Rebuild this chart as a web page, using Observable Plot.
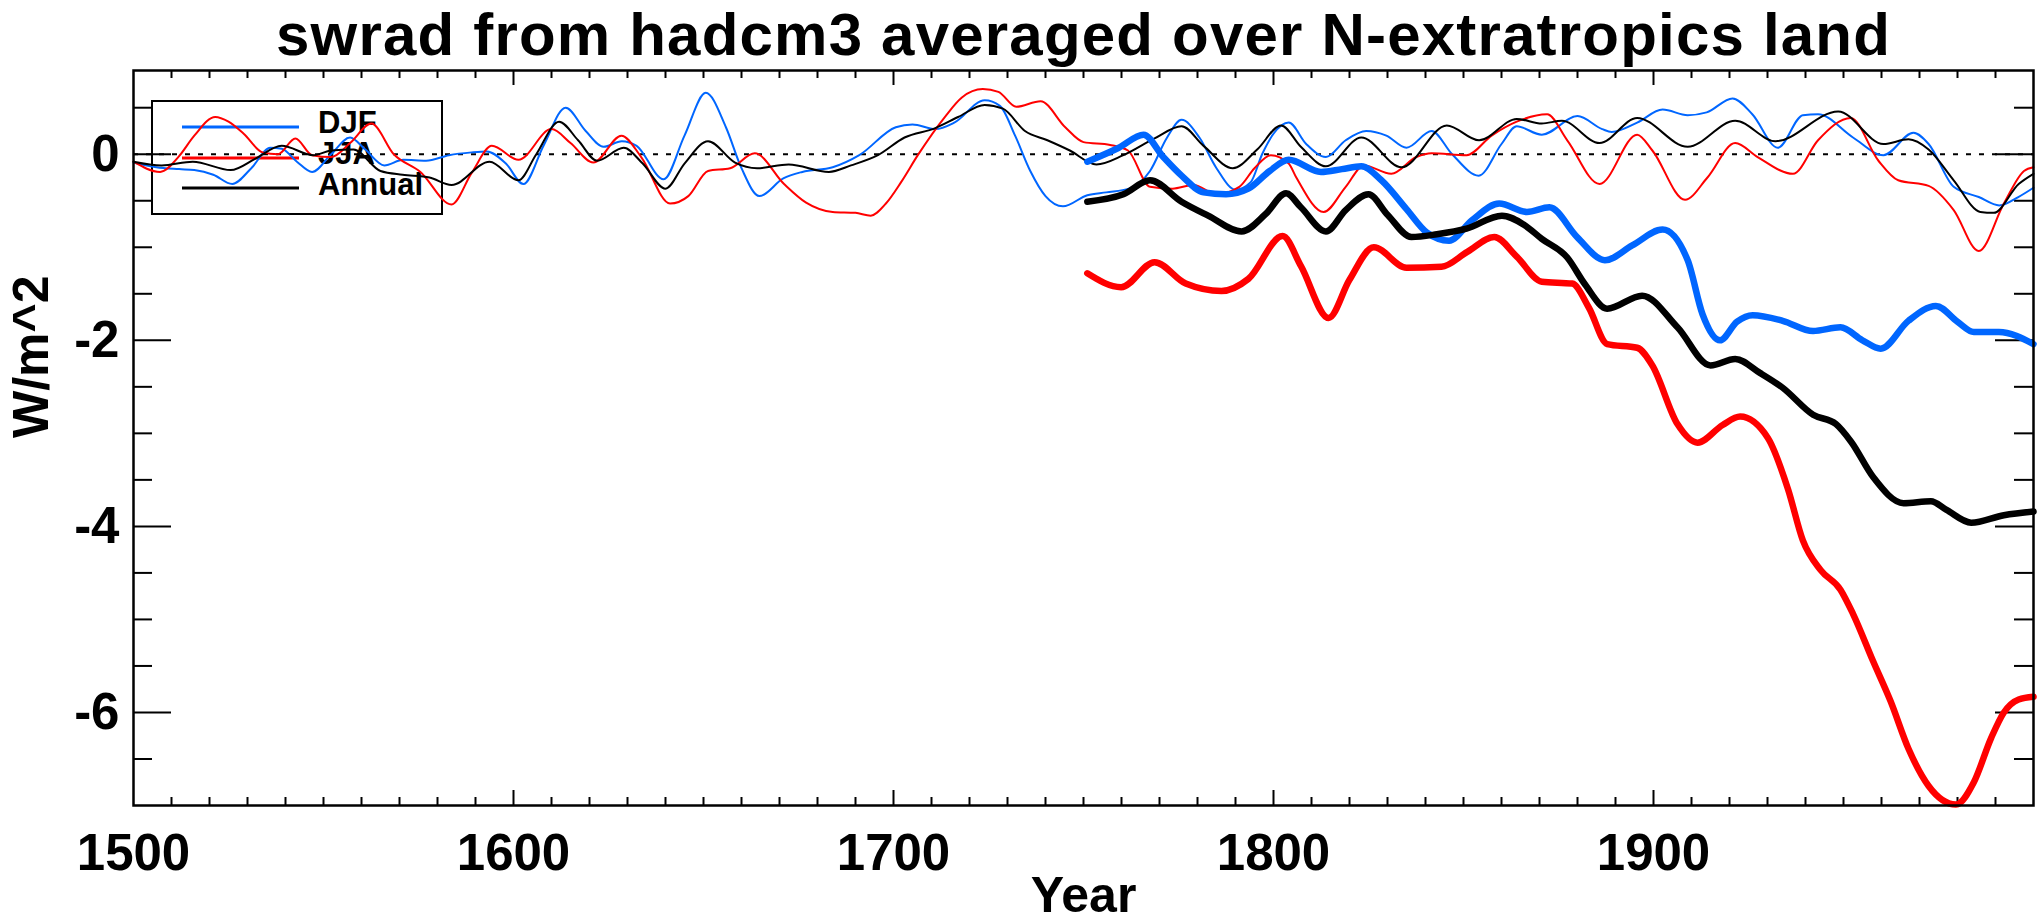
<!DOCTYPE html>
<html>
<head>
<meta charset="utf-8">
<script src="https://cdn.jsdelivr.net/npm/d3@7"></script>
<script src="https://cdn.jsdelivr.net/npm/@observablehq/plot@0.6"></script>
<style>
  html, body { margin: 0; padding: 0; background: #fff; }
  #chart { width: 2037px; height: 923px; }
</style>
</head>
<body>
<div id="chart"></div>
<script>
// ---------- text ----------
const titleText = "swrad from hadcm3 averaged over N-extratropics land";
const xLabelText = "Year";
const yLabelText = "W/m^2";
const seriesNames = ["DJF", "JJA", "Annual"];
const seriesColors = ["#0066ff", "#ff0000", "#000000"];

// ---------- ticks ----------
const xTickLabels = [1500, 1600, 1700, 1800, 1900];
const xMajorTicks = [1600, 1700, 1800, 1900];
const xMinorTicks = d3.range(1510, 2000, 10).filter(d => d % 100 !== 0);
const yTickLabels = [0, -2, -4, -6];
const yMajorTicks = [0, -2, -4, -6];
const yMinorTicks = [0.5, -0.5, -1, -1.5, -2.5, -3, -3.5, -4.5, -5, -5.5, -6.5];

// ---------- thin series (1500-2000) ----------
const djfThinYears = [1500,1506,1512,1516,1521,1526,1531,1536,1539,1543,1547,1552,1557,1561,1566,1571,1577,1583,1589,1593,1598,1602.6,1608,1613.7,1619,1623.7,1628.5,1632.4,1639.5,1645,1650.6,1655.9,1660,1664.7,1671,1676,1684,1691,1700.6,1705,1711,1716,1724,1728,1732,1736,1740,1744.6,1751,1756,1762,1767.5,1772,1775.8,1780.5,1785,1790,1794,1797,1800,1804,1808.6,1813.8,1819,1824.4,1829.7,1835,1841.6,1847,1854,1860,1864,1870.6,1880,1886.5,1889,1895.7,1902.4,1909,1914,1920.8,1926,1932.7,1939.3,1943.3,1952.5,1960.5,1968.4,1972.4,1979,1985.6,1991,1996,2000];
const djfThinValues = [-0.09,-0.14,-0.16,-0.17,-0.22,-0.32,-0.15,0.07,0.06,-0.08,-0.19,0.0,0.18,0.05,-0.12,-0.06,-0.07,-0.01,0.02,0.03,-0.1,-0.32,0.1,0.50,0.25,0.08,0.14,0.09,-0.27,0.2,0.66,0.29,-0.15,-0.45,-0.26,-0.19,-0.14,-0.01,0.29,0.32,0.27,0.34,0.58,0.52,0.2,-0.18,-0.45,-0.56,-0.44,-0.41,-0.37,-0.18,0.18,0.37,0.18,-0.15,-0.38,-0.3,0.0,0.22,0.34,0.11,-0.03,0.15,0.25,0.20,0.07,0.25,0.0,-0.23,0.11,0.30,0.21,0.41,0.27,0.24,0.34,0.48,0.42,0.45,0.60,0.43,0.07,0.42,0.43,0.18,-0.01,0.23,0.11,-0.35,-0.46,-0.55,-0.46,-0.36];

const jjaThinYears = [1500,1507,1512,1516,1521.5,1525,1529,1534,1538,1542.6,1547,1552,1557,1562.6,1568.5,1575.5,1583.7,1589,1594.3,1601.3,1610,1615,1621,1628.4,1633.6,1641.2,1646,1651.2,1657,1663.5,1671.2,1677,1684,1690,1694,1698,1702,1706.4,1713.5,1718,1723.5,1727.6,1732.3,1738.7,1745.2,1750,1757,1761.7,1767.5,1773.4,1779,1785,1791,1795,1799.3,1804,1806,1813.2,1819,1823.8,1831,1837.6,1841.6,1850.8,1857.4,1864,1872,1877.3,1885.8,1895.7,1899.7,1908.3,1914.2,1921.5,1927.4,1936.7,1943.3,1951.9,1959.2,1964.4,1972.4,1979,1985.6,1992.2,1997.5,2000];
const jjaThinValues = [-0.08,-0.19,-0.02,0.2,0.40,0.35,0.22,0.02,0.0,0.17,-0.01,-0.03,0.12,0.33,0.0,-0.19,-0.54,-0.2,0.09,-0.06,0.27,0.12,-0.09,0.20,-0.03,-0.53,-0.45,-0.18,-0.15,0.01,-0.32,-0.52,-0.62,-0.63,-0.66,-0.53,-0.3,-0.01,0.40,0.61,0.70,0.67,0.51,0.57,0.29,0.13,0.10,0.04,-0.35,-0.37,-0.33,-0.43,-0.35,-0.15,-0.01,-0.10,-0.25,-0.62,-0.35,-0.12,-0.21,-0.03,0.01,-0.01,0.20,0.35,0.43,0.15,-0.32,0.21,0.04,-0.49,-0.25,0.12,-0.03,-0.21,0.15,0.39,-0.07,-0.28,-0.34,-0.60,-1.04,-0.53,-0.18,-0.14];

const annThinYears = [1500,1507.4,1515.6,1525.6,1532,1539,1547.3,1552,1557.9,1565,1570.8,1577.9,1583.7,1593.7,1601.3,1606,1612,1617,1622,1629,1634,1640,1645,1651.2,1658.3,1664.1,1672.4,1683,1688.8,1695.9,1702.9,1711,1717,1724,1728.8,1734.6,1740.5,1746.4,1753.4,1760.5,1768.7,1775.8,1781.6,1789.3,1795.7,1802,1807.2,1813.8,1823.1,1833.7,1845.6,1854.1,1864,1870.6,1875.9,1885.8,1895.7,1909,1921.5,1932.1,1948.6,1960.5,1967.1,1972.4,1979,1986,1989.5,1996.1,2000];
const annThinValues = [-0.08,-0.12,-0.08,-0.17,-0.05,0.09,-0.01,0.04,0.05,-0.18,-0.22,-0.25,-0.33,-0.08,-0.28,0.0,0.35,0.15,-0.07,0.07,-0.1,-0.37,-0.1,0.14,-0.09,-0.15,-0.11,-0.19,-0.12,-0.01,0.18,0.28,0.40,0.53,0.49,0.25,0.15,0.04,-0.11,-0.01,0.17,0.30,0.09,-0.15,0.05,0.31,0.08,-0.13,0.18,-0.14,0.31,0.15,0.38,0.33,0.36,0.12,0.39,0.08,0.36,0.14,0.46,0.11,0.16,0.05,-0.28,-0.62,-0.63,-0.32,-0.21];

// ---------- thick series (1750-2000) ----------
const djfThickYears = [1751,1759.3,1765.8,1771,1775.8,1781.6,1787.5,1793.4,1799,1804,1812.5,1818,1823.1,1828.4,1835,1840.3,1846.2,1852.2,1859.4,1866.7,1872.6,1879.9,1887.2,1894.4,1902.4,1909,1912.9,1917.5,1922,1926.1,1934,1942,1949.2,1955,1959.8,1967.1,1974.3,1980,1984.3,1990.9,2000];
const djfThickValues = [-0.08,0.07,0.21,-0.03,-0.23,-0.41,-0.43,-0.37,-0.18,-0.06,-0.19,-0.16,-0.13,-0.28,-0.59,-0.84,-0.93,-0.71,-0.53,-0.62,-0.57,-0.89,-1.14,-0.98,-0.81,-1.14,-1.72,-2.00,-1.8,-1.73,-1.79,-1.90,-1.86,-2.0,-2.09,-1.79,-1.63,-1.8,-1.91,-1.91,-2.04];

const jjaThickYears = [1751,1759.9,1768.7,1776.9,1786.3,1793.4,1802.4,1807.2,1814.5,1820,1826.4,1835,1844.2,1851,1858.1,1864,1870.6,1878.6,1883,1887.8,1895.7,1899.7,1906.3,1911.6,1918.2,1922.8,1930.1,1935.4,1939.3,1944,1949.2,1952.5,1957.8,1962.4,1967.1,1972.4,1979.6,1984.3,1988.9,1992.2,1996.1,2000];
const jjaThickValues = [-1.28,-1.43,-1.16,-1.39,-1.47,-1.34,-0.88,-1.2,-1.76,-1.35,-1.00,-1.22,-1.21,-1.05,-0.89,-1.1,-1.37,-1.39,-1.65,-2.04,-2.08,-2.27,-2.90,-3.10,-2.91,-2.82,-3.05,-3.60,-4.15,-4.47,-4.68,-4.94,-5.45,-5.88,-6.39,-6.79,-6.99,-6.75,-6.27,-6.00,-5.86,-5.83];

const annThickYears = [1751,1760.5,1767.5,1775.8,1782.8,1791.6,1798,1803.3,1807.2,1813.8,1819,1825,1830,1836.3,1843,1850.8,1860.1,1866,1870.6,1877.3,1882,1887.8,1897,1906.3,1915,1921.5,1928,1934,1942,1948,1952,1957.8,1965.8,1973,1977,1983.6,1992.2,2000];
const annThickValues = [-0.51,-0.43,-0.28,-0.51,-0.66,-0.83,-0.64,-0.42,-0.57,-0.83,-0.6,-0.43,-0.65,-0.89,-0.86,-0.80,-0.66,-0.76,-0.91,-1.11,-1.4,-1.66,-1.52,-1.86,-2.27,-2.20,-2.35,-2.51,-2.80,-2.90,-3.09,-3.47,-3.75,-3.73,-3.82,-3.96,-3.88,-3.84];

// ---------- build tables ----------
const toRows = (years, values) => years.map((x, i) => ({x, y: values[i]}));
const thinSeries = [
  toRows(djfThinYears, djfThinValues),
  toRows(jjaThinYears, jjaThinValues),
  toRows(annThinYears, annThinValues)
];
const thickSeries = [
  toRows(djfThickYears, djfThickValues),
  toRows(jjaThickYears, jjaThickValues),
  toRows(annThickYears, annThickValues)
];

const W = 2037, H = 923;
const mL = 133, mR = 4, mT = 70, mB = 118;
const fw = W - mL - mR, fh = H - mT - mB;
const font = "'Liberation Sans', Arial, Helvetica, sans-serif";

const xMajLen = 15, xMinLen = 8, yMajLen = 38, yMinLen = 19;

const marks = [
  // ticks (inward, mirrored)
  Plot.tickX(xMinorTicks, {x: d => d, insetTop: fh - xMinLen, stroke: "black", strokeWidth: 2}),
  Plot.tickX(xMinorTicks, {x: d => d, insetBottom: fh - xMinLen, stroke: "black", strokeWidth: 2}),
  Plot.tickX(xMajorTicks, {x: d => d, insetTop: fh - xMajLen, stroke: "black", strokeWidth: 2}),
  Plot.tickX(xMajorTicks, {x: d => d, insetBottom: fh - xMajLen, stroke: "black", strokeWidth: 2}),
  Plot.tickY(yMinorTicks, {y: d => d, insetRight: fw - yMinLen, stroke: "black", strokeWidth: 2}),
  Plot.tickY(yMinorTicks, {y: d => d, insetLeft: fw - yMinLen, stroke: "black", strokeWidth: 2}),
  Plot.tickY(yMajorTicks, {y: d => d, insetRight: fw - yMajLen, stroke: "black", strokeWidth: 2}),
  Plot.tickY(yMajorTicks, {y: d => d, insetLeft: fw - yMajLen, stroke: "black", strokeWidth: 2}),
  // zero reference line
  Plot.ruleY([0], {stroke: "black", strokeWidth: 2, strokeDasharray: "5,8"}),
];

thinSeries.forEach((rows, i) => {
  marks.push(Plot.line(rows, {x: "x", y: "y", stroke: seriesColors[i], strokeWidth: 2, curve: "monotone-x"}));
});
thickSeries.forEach((rows, i) => {
  marks.push(Plot.line(rows, {x: "x", y: "y", stroke: seriesColors[i], strokeWidth: 6.5, curve: "monotone-x"}));
});

marks.push(
  Plot.frame({stroke: "black", strokeWidth: 2.5}),
  // tick labels
  Plot.text(xTickLabels, {x: d => d, text: d => String(d), frameAnchor: "bottom", lineAnchor: "top", dy: 28, fontSize: 51, fontWeight: "bold", fill: "black"}),
  Plot.text(yTickLabels, {y: d => d, text: d => String(d), frameAnchor: "left", textAnchor: "end", lineAnchor: "middle", dx: -14, fontSize: 51, fontWeight: "bold", fill: "black"}),
  // title & axis titles
  Plot.text([titleText], {text: d => d, frameAnchor: "top", lineAnchor: "bottom", dy: -16, fontSize: 60, fontWeight: "bold", fill: "black", className: "title-text"}),
  Plot.text([xLabelText], {text: d => d, frameAnchor: "bottom", lineAnchor: "bottom", dy: 106, fontSize: 50, fontWeight: "bold", fill: "black"}),
  Plot.text([yLabelText], {text: d => d, frameAnchor: "left", lineAnchor: "bottom", rotate: -90, dx: -86, fontSize: 50, fontWeight: "bold", fill: "black"})
);

const chart = Plot.plot({
  width: W, height: H,
  marginLeft: mL, marginRight: mR, marginTop: mT, marginBottom: mB,
  x: {domain: [1500, 2000], axis: null},
  y: {domain: [-7, 0.9], axis: null},
  style: {background: "white", fontFamily: font, color: "black", overflow: "visible"},
  marks
});
document.getElementById("chart").appendChild(chart);

// slightly widen the title to match the reference's span
d3.select(chart).selectAll(".title-text text").style("letter-spacing", "1.2px");

// ---------- legend (drawn beneath the data lines) ----------
const firstLine = chart.querySelector("g[aria-label='line']");
const lg = d3.select(chart.insertBefore(document.createElementNS("http://www.w3.org/2000/svg", "g"), firstLine));
lg.append("rect").attr("x", 152).attr("y", 101).attr("width", 290).attr("height", 113)
  .attr("fill", "none").attr("stroke", "black").attr("stroke-width", 2);
const legendLineY = [127, 158, 188];
const legendTextY = [133, 164, 195];
seriesNames.forEach((name, i) => {
  lg.append("line").attr("x1", 182).attr("x2", 299).attr("y1", legendLineY[i]).attr("y2", legendLineY[i])
    .attr("stroke", seriesColors[i]).attr("stroke-width", 3);
  lg.append("text").attr("x", 318).attr("y", legendTextY[i]).text(name)
    .attr("text-anchor", "start")
    .attr("font-family", font).attr("font-weight", "bold").attr("font-size", 31).attr("fill", "black");
});
</script>
</body>
</html>
